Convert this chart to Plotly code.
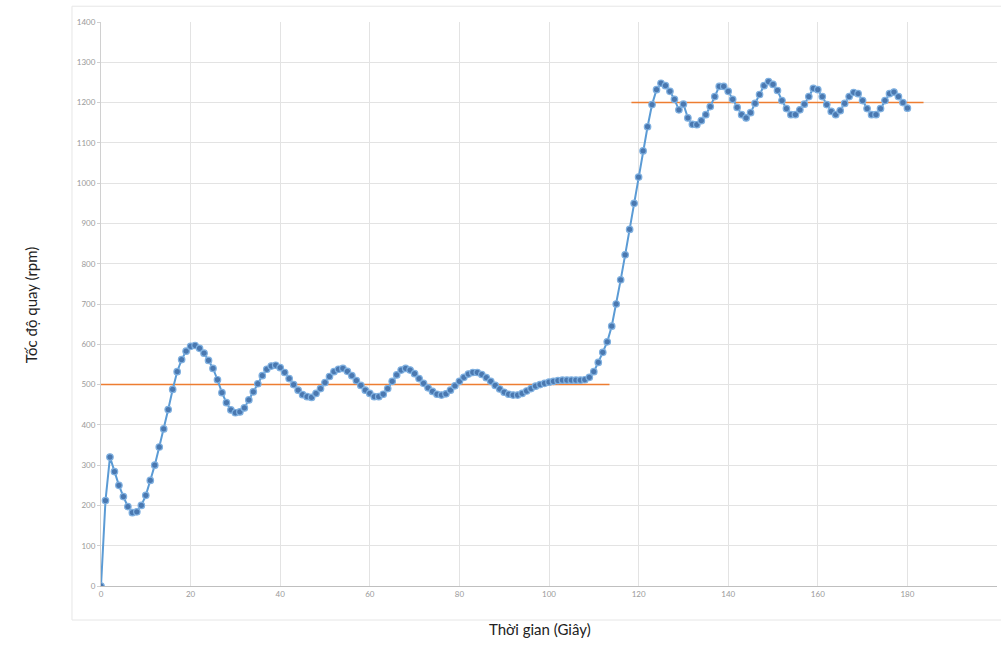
import plotly.graph_objects as go

# ---- data ----
time_s = list(range(0, 181))
speed_rpm = [
    0, 212, 320, 284, 250, 222, 197, 182, 184, 200,
    225, 262, 300, 345, 390, 438, 488, 532, 562, 583,
    595, 597, 590, 578, 560, 540, 512, 480, 455, 437,
    430, 432, 442, 462, 482, 502, 522, 538, 546, 548,
    542, 530, 515, 500, 486, 475, 470, 468, 478, 490,
    505, 520, 532, 538, 540, 533, 522, 510, 498, 486,
    478, 470, 470, 476, 490, 508, 524, 536, 540, 536,
    527, 515, 503, 492, 483, 476, 474, 477, 486, 497,
    508, 518, 526, 530, 530, 525, 517, 508, 498, 489,
    481, 476, 474, 474, 478, 484, 490, 496, 500, 503,
    506, 508, 510, 511, 511, 511, 511, 511, 512, 518,
    532, 555, 580, 606, 645, 700, 760, 822, 885, 950,
    1015, 1080, 1140, 1195, 1232, 1248, 1242, 1228, 1208, 1182,
    1196, 1162, 1146, 1145, 1155, 1170, 1190, 1215, 1240, 1240,
    1228, 1208, 1188, 1170, 1162, 1175, 1198, 1220, 1242, 1252,
    1245, 1230, 1205, 1185, 1170, 1170, 1182, 1196, 1215, 1235,
    1232, 1215, 1195, 1178, 1170, 1180, 1198, 1215, 1225, 1222,
    1205, 1185, 1170, 1170, 1185, 1205, 1222, 1226, 1215, 1200,
    1186,
]
setpoint_x = [0, 113.5, None, 118.4, 183.6]
setpoint_y = [500, 500, None, 1200, 1200]

x_ticks = list(range(0, 201, 20))
y_ticks = list(range(0, 1401, 100))

fig = go.Figure()
fig.add_trace(go.Scatter(
    x=setpoint_x, y=setpoint_y, mode="lines",
    line=dict(color="#ED7D31", width=1.5),
    hoverinfo="skip", showlegend=False,
))
fig.add_trace(go.Scatter(
    x=time_s, y=speed_rpm, mode="lines+markers",
    line=dict(color="#5B9BD5", width=2),
    marker=dict(size=6.5, color="#4A78B0", line=dict(color="#7FB0E0", width=1.2)),
    showlegend=False,
))

grid = "#e3e3e3"
tickfont = dict(family="Lato, Open Sans, sans-serif", size=8, color="#9a9a9a")
fig.update_xaxes(
    range=[0, 200], tickvals=x_ticks, showgrid=True, gridcolor=grid, gridwidth=1,
    zeroline=False, showline=True, linecolor="#bfbfbf", linewidth=1,
    ticks="", tickfont=tickfont, fixedrange=True, automargin=False,
)
fig.update_yaxes(
    range=[0, 1400], tickvals=y_ticks, showgrid=True, gridcolor=grid, gridwidth=1,
    zeroline=False, showline=True, linecolor="#d0d0d0", linewidth=1,
    ticks="outside", ticklen=3, tickcolor="#d0d0d0", tickfont=tickfont, fixedrange=True,
    automargin=False,
)

fig.update_layout(
    width=1001, height=657, autosize=False,
    margin=dict(l=101, r=4, t=22, b=71),
    paper_bgcolor="white", plot_bgcolor="white",
    annotations=[
        dict(text="Tốc độ quay (rpm)", xref="paper", yref="paper",
             x=-0.0904, y=0.498, textangle=-90, showarrow=False,
             font=dict(family="Lato, Open Sans, sans-serif", size=15, color="#222222")),
        dict(text="Thời gian (Giây)", xref="paper", yref="paper",
             x=0.49, y=-0.0957, showarrow=False,
             font=dict(family="Lato, Open Sans, sans-serif", size=15, color="#222222")),
    ],
    shapes=[
        dict(type="line", xref="paper", yref="paper", x0=-0.0324, x1=-0.0324,
             y0=-0.0603, y1=1.028, line=dict(color="#e6e6e6", width=1)),
        dict(type="line", xref="paper", yref="paper", x0=-0.0324, x1=1.01,
             y0=1.028, y1=1.028, line=dict(color="#e6e6e6", width=1)),
        dict(type="line", xref="paper", yref="paper", x0=-0.0324, x1=1.01,
             y0=-0.0603, y1=-0.0603, line=dict(color="#e6e6e6", width=1)),
    ],
)

fig.write_html(
    "out.html",
    config={"responsive": False, "displayModeBar": False},
    post_script="document.body.style.margin='0';document.body.style.overflow='hidden';",
)
